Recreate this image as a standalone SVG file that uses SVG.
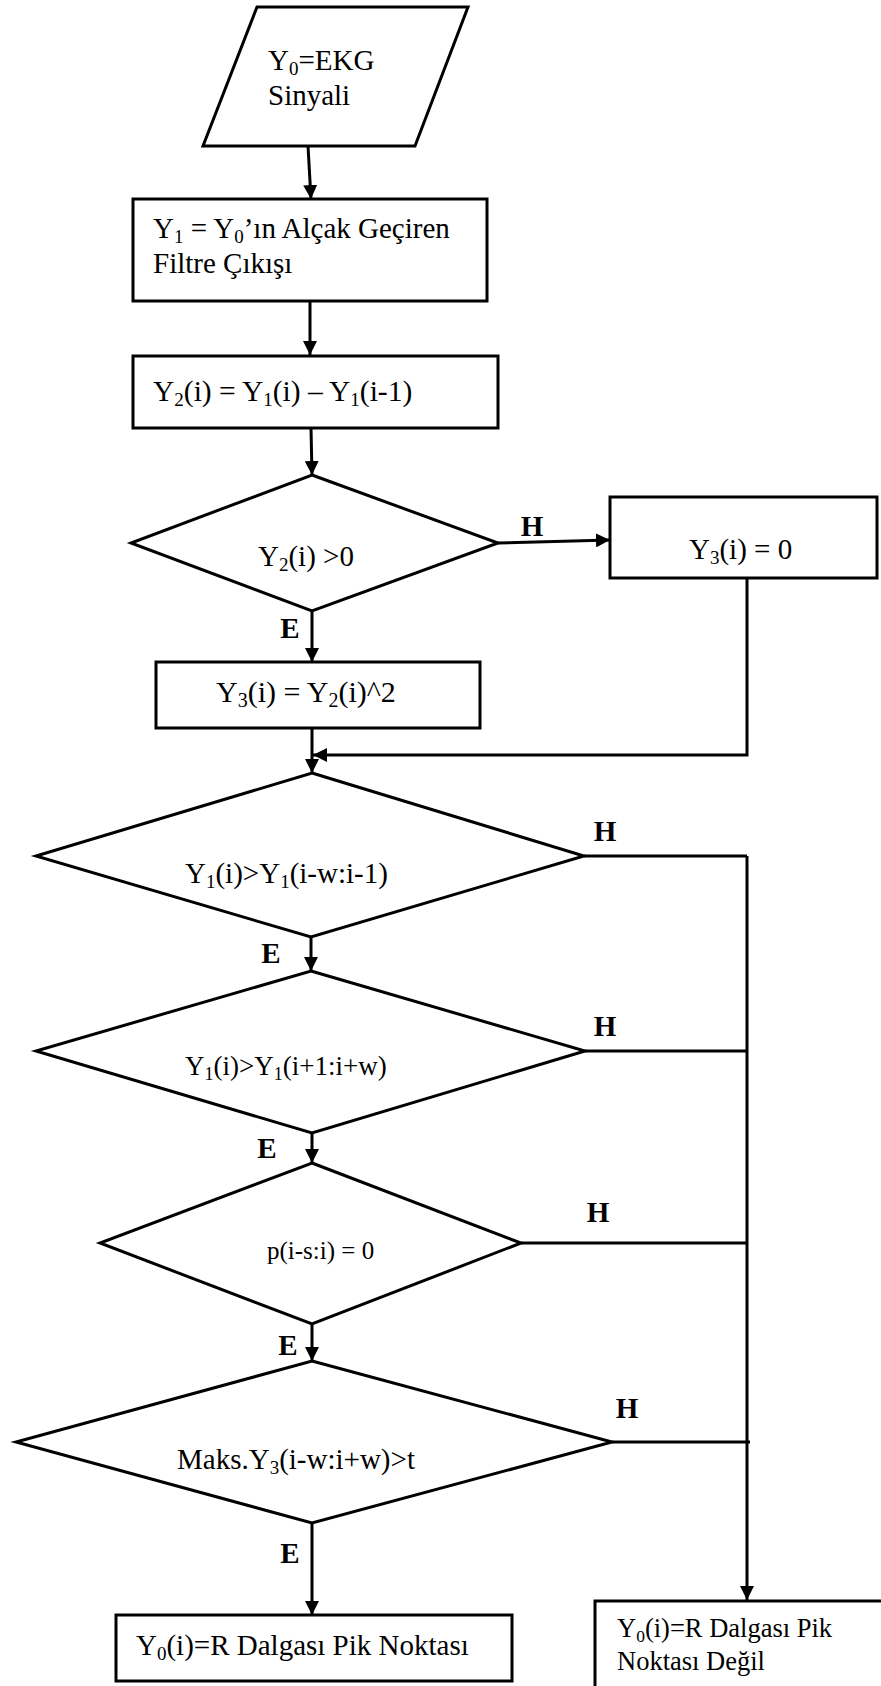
<svg xmlns="http://www.w3.org/2000/svg" width="881" height="1686" viewBox="0 0 881 1686">
<defs>
<style>
.shape{fill:#fff;stroke:#000;stroke-width:3}
.t{font-family:"Liberation Serif","Times New Roman",serif;fill:#000}
.lbl{font-family:"Liberation Serif","Times New Roman",serif;font-weight:bold;font-size:29px;text-anchor:middle;fill:#000}
.c{fill:none;stroke:#000;stroke-width:3}
</style>
<marker id="ah" markerUnits="userSpaceOnUse" markerWidth="14" markerHeight="14" refX="14" refY="7" orient="auto">
<path d="M0,0 L14,7 L0,14 z" fill="#000"/>
</marker>
</defs>
<rect width="881" height="1686" fill="#fff"/>

<g id="connectors">
<path class="c" d="M308,146 L311,199" marker-end="url(#ah)"/>
<path class="c" d="M310,301 L310,355" marker-end="url(#ah)"/>
<path class="c" d="M311,428 L312,475" marker-end="url(#ah)"/>
<path class="c" d="M498,543 L610,540" marker-end="url(#ah)"/>
<path class="c" d="M312,611 L312,662" marker-end="url(#ah)"/>
<path class="c" d="M747,578 L747,755 L313,755" marker-end="url(#ah)"/>
<path class="c" d="M312,728 L312,773" marker-end="url(#ah)"/>
<path class="c" d="M311,937 L311,971" marker-end="url(#ah)"/>
<path class="c" d="M312,1133 L312,1163" marker-end="url(#ah)"/>
<path class="c" d="M312,1324 L312,1361" marker-end="url(#ah)"/>
<path class="c" d="M312,1523 L312,1615" marker-end="url(#ah)"/>
<path class="c" d="M584,856 L747,856"/>
<path class="c" d="M585,1051 L747,1051"/>
<path class="c" d="M521,1243 L747,1243"/>
<path class="c" d="M612,1442 L750,1442"/>
<path class="c" d="M747,856 L747,1600" marker-end="url(#ah)"/>
<text class="lbl" x="532" y="536">H</text>
<text class="lbl" x="290" y="638">E</text>
<text class="lbl" x="605" y="841">H</text>
<text class="lbl" x="271" y="963">E</text>
<text class="lbl" x="605" y="1036">H</text>
<text class="lbl" x="267" y="1158">E</text>
<text class="lbl" x="598" y="1222">H</text>
<text class="lbl" x="288" y="1355">E</text>
<text class="lbl" x="627" y="1418">H</text>
<text class="lbl" x="290" y="1563">E</text>
</g>

<g id="input">
<polygon class="shape" points="257,7 468,7 415,146 203,146"/>
<text class="t" font-size="29" x="268" y="70">Y<tspan font-size="19" dy="5">0</tspan><tspan dy="-5">=EKG</tspan></text>
<text class="t" font-size="29" x="268" y="105">Sinyali</text>
</g>

<g id="lowpass">
<rect class="shape" x="133" y="199" width="354" height="102"/>
<text class="t" font-size="29" x="153" y="238">Y<tspan font-size="19" dy="5">1</tspan><tspan dy="-5"> = Y</tspan><tspan font-size="19" dy="5">0</tspan><tspan dy="-5">’ın Alçak Geçiren</tspan></text>
<text class="t" font-size="29" x="153" y="273">Filtre Çıkışı</text>
</g>

<g id="diff">
<rect class="shape" x="133" y="356" width="365" height="72"/>
<text class="t" font-size="29.5" x="153" y="401">Y<tspan font-size="19" dy="5">2</tspan><tspan dy="-5">(i) = Y</tspan><tspan font-size="19" dy="5">1</tspan><tspan dy="-5">(i) – Y</tspan><tspan font-size="19" dy="5">1</tspan><tspan dy="-5">(i-1)</tspan></text>
</g>

<g id="dec1">
<polygon class="shape" points="312,475 498,543 312,611 131,543"/>
<text class="t" font-size="29" x="258" y="566">Y<tspan font-size="19" dy="5">2</tspan><tspan dy="-5">(i) &gt;0</tspan></text>
</g>

<g id="zero">
<rect class="shape" x="610" y="497" width="267" height="81"/>
<text class="t" font-size="29" x="689" y="559">Y<tspan font-size="19" dy="5">3</tspan><tspan dy="-5">(i) = 0</tspan></text>
</g>

<g id="square">
<rect class="shape" x="156" y="662" width="324" height="66"/>
<text class="t" font-size="30" x="216" y="702">Y<tspan font-size="20" dy="5">3</tspan><tspan dy="-5">(i) = Y</tspan><tspan font-size="20" dy="5">2</tspan><tspan dy="-5">(i)^2</tspan></text>
</g>

<g id="dec2">
<polygon class="shape" points="312,773 584,856 311,937 36,856"/>
<text class="t" font-size="29" x="185" y="883">Y<tspan font-size="19" dy="5">1</tspan><tspan dy="-5">(i)&gt;Y</tspan><tspan font-size="19" dy="5">1</tspan><tspan dy="-5">(i-w:i-1)</tspan></text>
</g>

<g id="dec3">
<polygon class="shape" points="311,971 585,1051 312,1133 36,1051"/>
<text class="t" font-size="27" x="185" y="1075">Y<tspan font-size="18" dy="5">1</tspan><tspan dy="-5">(i)&gt;Y</tspan><tspan font-size="18" dy="5">1</tspan><tspan dy="-5">(i+1:i+w)</tspan></text>
</g>

<g id="dec4">
<polygon class="shape" points="312,1163 521,1243 312,1324 100,1243"/>
<text class="t" font-size="25" x="267" y="1259">p(i-s:i) = 0</text>
</g>

<g id="dec5">
<polygon class="shape" points="312,1361 612,1442 312,1523 16,1442"/>
<text class="t" font-size="29" x="177" y="1469">Maks.Y<tspan font-size="19" dy="5">3</tspan><tspan dy="-5">(i-w:i+w)&gt;t</tspan></text>
</g>

<g id="peak">
<rect class="shape" x="116" y="1615" width="396" height="66"/>
<text class="t" font-size="29" x="136" y="1655">Y<tspan font-size="19" dy="5">0</tspan><tspan dy="-5">(i)=R Dalgası Pik Noktası</tspan></text>
</g>

<g id="notpeak">
<rect class="shape" x="595" y="1601" width="320" height="120"/>
<text class="t" font-size="26.5" x="617" y="1637">Y<tspan font-size="17.5" dy="5">0</tspan><tspan dy="-5">(i)=R Dalgası Pik</tspan></text>
<text class="t" font-size="26.5" x="617" y="1670">Noktası Değil</text>
</g>
</svg>
